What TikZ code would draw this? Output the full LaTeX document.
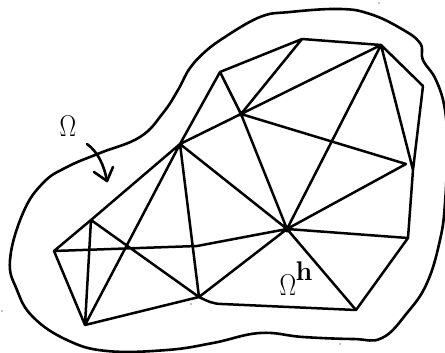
\documentclass[tikz,border=0pt]{standalone}
\usetikzlibrary{arrows.meta}
\tikzset{
  edge/.style={line width=2.5pt,line cap=round,line join=round,black},
  outline/.style={line width=2.6pt,line cap=round,line join=round,black},
  vert/.style={coordinate},
  lab/.style={inner sep=0pt,font=\fontsize{27}{27}\selectfont},
  omlab/.style={inner sep=0pt,font=\fontsize{20}{20}\selectfont,xscale=1.2,yscale=1.45},
  speck/.style={fill=black,draw=none,circle,inner sep=0pt,minimum size=1.4pt}
}
\begin{document}
\begin{tikzpicture}[x=1pt,y=-1pt]
\useasboundingbox (0,0) rectangle (445,353);
% vertices
\node[vert] (A) at (54,251) {};
\node[vert] (B) at (91,220) {};
\node[vert] (C) at (85,325) {};
\node[vert] (E) at (199,297) {};
\node[vert] (F) at (180,144) {};
\node[vert] (G) at (197,246) {};
\node[vert] (H) at (287,229) {};
\node[vert] (I) at (241,114) {};
\node[vert] (J) at (220,72) {};
\node[vert] (K) at (302,39) {};
\node[vert] (L) at (381,45) {};
\node[vert] (M) at (423,86) {};
\node[vert] (N) at (406,164) {};
\node[vert] (O) at (413,170) {};
\node[vert] (P) at (408,238) {};
\node[vert] (Q) at (356,310) {};
% mesh
\draw[edge] (A)--(B) (A)--(C) (A)--(G) (G)--(H) (B)--(C) (B)--(E) (C)--(F) (B)--(F)
 (C)--(E) (F)--(E) (F)--(I) (I)--(L) (F)--(J) (J)--(I) (I)--(K) (J)--(K) (K)--(L)
 (L)--(H) (L)--(O) (L)--(M) (M)--(O) (O)--(P) (I)--(H) (I)--(N) (N)--(H) (F)--(H)
 (H)--(P) (H)--(Q) (P)--(Q) (E)--(H);
\draw[edge] (E) .. controls (207,301) and (213,304) .. (222,304) -- (Q);
\fill (H) circle (3.5pt);
\fill (I) circle (2.5pt);
% boundary
\draw[outline] plot[smooth,tension=0.7] coordinates {
 (225,37) (207,50) (190,68) (178,90) (163,113) (140,137) (100,153) (67,167) (43,183)
 (23,213) (10,260) (17,290) (33,317) (67,340) (107,351) (167,350) (213,343) (260,333)
 (303,337) (353,339) (382,338) (407,313) (427,283) (440,240) (445,203) (447,150)
 (445,110) (436,80) (423,60) (420,43) (400,28) (370,14) (340,9) (290,12) (260,17) (225,37)};
% arrow
\coordinate (arrS) at (87,144);
\coordinate (arrT) at (107,181);
\coordinate (barbL) at (94,172);
\coordinate (barbR) at (113,167);
\draw[outline] (arrS) .. controls (98,152) and (104,165) .. (arrT);
\draw[outline] (barbL) -- (arrT) -- (barbR);
% labels
\node[omlab] (om) at (68,126) {$\Omega$};
\node[omlab] (omh) at (288,285) {$\Omega$};
\node[lab] (hh) at (304,271) {\bfseries h};
% specks
\node[speck] (s1) at (2,311) {};
\node[speck] (s2) at (191,304) {};
\node[speck] (s3) at (340,344) {};
\node[speck] (s4) at (379,3) {};
\end{tikzpicture}
\end{document}
